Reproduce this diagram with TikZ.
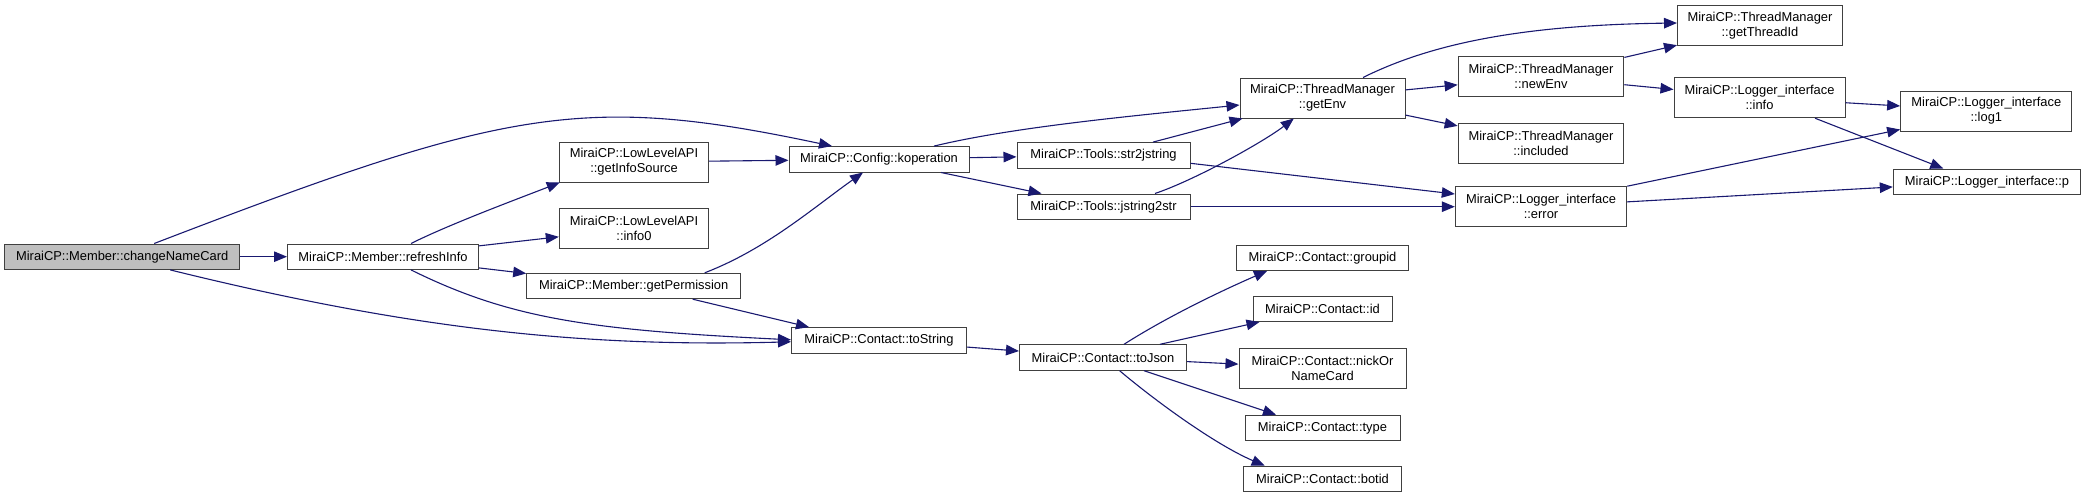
\documentclass[tikz,border=0pt]{standalone}
\usepackage{fontspec}
\setmainfont{Liberation Sans}
\usetikzlibrary{arrows.meta, positioning}
\definecolor{callblue}{RGB}{25,25,112}
\definecolor{boxline}{RGB}{64,64,64}

\begin{document}
\begin{tikzpicture}[x=1pt, y=-1pt,
    >={Triangle[length=13pt, width=10.5pt]},
    fn/.style={rectangle, draw=boxline, line width=1pt, fill=white, inner sep=0pt,
      minimum height=25.4pt, align=center, font=\fontsize{12.9pt}{15pt}\selectfont},
    fn2/.style={fn, minimum height=40pt},
    current/.style={fn, fill=black!25},
    call/.style={->, callblue, line width=1.1pt},
  ]
  \useasboundingbox (0,0) rectangle (2085,495);
  \node[current, minimum width=235.5pt] (cnc) at (122.2,256.7) {MiraiCP::Member::changeNameCard};
  \node[fn, minimum width=191pt] (refresh) at (383,256.7) {MiraiCP::Member::refreshInfo};
  \node[fn2, minimum width=149.4pt] (infosrc) at (634,162) {MiraiCP::LowLevelAPI\\::getInfoSource};
  \node[fn2, minimum width=149.4pt, below=25.3pt of infosrc] (info0) {MiraiCP::LowLevelAPI\\::info0};
  \node[fn, minimum width=214pt] (perm) at (633.7,286) {MiraiCP::Member::getPermission};
  \node[fn, minimum width=180pt] (kop) at (879,159.3) {MiraiCP::Config::koperation};
  \node[fn, minimum width=173pt] (s2j) at (1103.5,155.3) {MiraiCP::Tools::str2jstring};
  \node[fn, minimum width=173pt, below=25pt of s2j] (j2s) {MiraiCP::Tools::jstring2str};
  \node[fn, minimum width=175pt] (tostr) at (879,340.3) {MiraiCP::Contact::toString};
  \node[fn2, minimum width=165pt] (getenv) at (1322.5,98) {MiraiCP::ThreadManager\\::getEnv};
  \node[fn2, minimum width=171.4pt] (err) at (1541,206.7) {MiraiCP::Logger\_interface\\::error};
  \node[fn, minimum width=167pt] (tojson) at (1103,357.5) {MiraiCP::Contact::toJson};
  \node[fn, minimum width=171.6pt] (gid) at (1322.5,257.8) {MiraiCP::Contact::groupid};
  \node[fn, minimum width=139pt, below=24.6pt of gid] (cid) {MiraiCP::Contact::id};
  \node[fn2, minimum width=167pt, below=25.7pt of cid] (nick) {MiraiCP::Contact::nickOr\\NameCard};
  \node[fn, minimum width=155pt, below=26pt of nick] (ctype) {MiraiCP::Contact::type};
  \node[fn, minimum width=158pt, below=24.6pt of ctype] (botid) {MiraiCP::Contact::botid};
  \node[fn2, minimum width=165pt] (tid) at (1760,26) {MiraiCP::ThreadManager\\::getThreadId};
  \node[fn2, minimum width=165.7pt] (newenv) at (1541,76.7) {MiraiCP::ThreadManager\\::newEnv};
  \node[fn2, minimum width=165.7pt, below=25.3pt of newenv] (incl) {MiraiCP::ThreadManager\\::included};
  \node[fn2, minimum width=171pt] (linfo) at (1759.5,97.7) {MiraiCP::Logger\_interface\\::info};
  \node[fn2, minimum width=171.3pt] (log1) at (1986.3,111) {MiraiCP::Logger\_interface\\::log1};
  \node[fn, minimum width=187.4pt] (lp) at (1987,181.7) {MiraiCP::Logger\_interface::p};
  \foreach \a/\b in {cnc/refresh, refresh/info0, refresh/perm, infosrc/kop, kop/s2j, j2s/err,
                     getenv/newenv, getenv/incl, newenv/tid, newenv/linfo, linfo/log1, err/lp,
                     tostr/tojson, tojson/nick} {
    \draw[call] (\a) -- (\b);
  }
  \draw[call] ([xshift=32pt]cnc.north) .. controls (504,109) and (582,93) .. ([xshift=-47pt]kop.north);
  \draw[call] ([xshift=48pt]cnc.south) .. controls (420,331.6) and (591.5,347) .. ([yshift=-1.5pt]tostr.west);
  \draw[call] ([xshift=28pt]refresh.north) .. controls (450,224) and (520,198) .. ([xshift=1pt]infosrc.south west);
  \draw[call] ([xshift=28pt]refresh.south) .. controls (510.7,319.3) and (591.5,330) .. ([yshift=0.5pt]tostr.west);
  \draw[call] ([xshift=71pt]perm.north) .. controls (766,249.3) and (813,208) .. ([xshift=-16pt]kop.south);
  \draw[call] ([xshift=59pt]perm.south) -- ([xshift=-70pt]tostr.north);
  \draw[call] ([xshift=55pt]kop.north) .. controls (1014,126.7) and (1139,115.3) .. ([yshift=-7pt]getenv.west);
  \draw[call] ([xshift=62pt]kop.south) -- ([xshift=-62pt]j2s.north);
  \draw[call] ([xshift=49.5pt]s2j.north) -- ([xshift=3pt]getenv.south west);
  \draw[call] ([xshift=51.5pt]j2s.north) .. controls (1195,180) and (1263.8,141.7) .. ([xshift=-28.7pt]getenv.south);
  \draw[call] ([yshift=-8pt]s2j.east) -- ([yshift=12.7pt]err.west);
  \draw[call] ([xshift=40.5pt]getenv.north) .. controls (1433,42.7) and (1525,25) .. ([yshift=3pt]tid.west);
  \draw[call] ([xshift=55.5pt]linfo.south) -- ([xshift=-43.7pt]lp.north);
  \draw[call] (err.north east) -- ([yshift=2pt]log1.south west);
  \draw[call] ([xshift=21pt]tojson.north) .. controls (1164,318.7) and (1217,292.7) .. ([xshift=-55.5pt]gid.south);
  \draw[call] ([xshift=57pt]tojson.north) -- ([xshift=7pt]cid.south west);
  \draw[call] ([xshift=41pt]tojson.south) -- ([xshift=-46.5pt]ctype.north);
  \draw[call] ([xshift=16.6pt]tojson.south) .. controls (1154.6,400.3) and (1214.7,444.3) .. ([xshift=-57.8pt]botid.north);
\end{tikzpicture}
\end{document}
